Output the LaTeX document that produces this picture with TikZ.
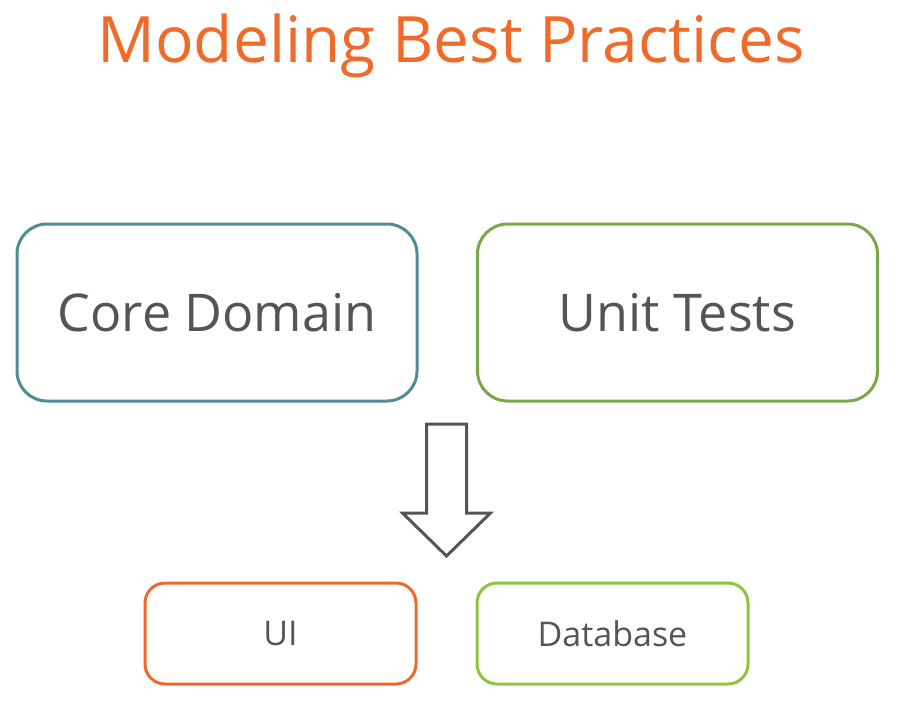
\documentclass[tikz,border=0pt]{standalone}
\usepackage{fontspec}
\setmainfont{Open Sans}
\usetikzlibrary{positioning}
\definecolor{titleorange}{HTML}{F06A2A}
\definecolor{coreteal}{HTML}{4F8C98}
\definecolor{testgreen}{HTML}{78A84A}
\definecolor{uiorange}{HTML}{EC6A2E}
\definecolor{dblime}{HTML}{8CC440}
\definecolor{textgray}{HTML}{555555}
\tikzset{bigbox/.style={rectangle, draw, line width=3pt, rounded corners=30pt,
  minimum width=400pt, minimum height=177pt, text=textgray,
  font=\fontsize{52}{52}\selectfont}}
\tikzset{smallbox/.style={rectangle, draw, line width=3pt, rounded corners=20pt,
  minimum width=271pt, minimum height=101pt, text=textgray,
  font=\fontsize{34}{34}\selectfont}}
\begin{document}
\begin{tikzpicture}[x=1pt,y=-1pt]

    \tikzstyle{bigarrow} = [draw=textgray, line width=3pt, line join=miter];

    \useasboundingbox (0,0) rectangle (902,705);

    \node [text=titleorange, font=\fontsize{64}{64}\selectfont] at (451,46) (title) {Modeling Best Practices};

    \node [bigbox, draw=coreteal] at (217,312.5) (core) {Core Domain};
    \node [bigbox, draw=testgreen] at (677.5,312.5) (tests) {Unit Tests};

    \node [smallbox, draw=uiorange] at (280.5,633.5) (ui) {UI};
    \node [smallbox, draw=dblime] at (612.5,633.5) (db) {Database};

    % hollow arrow between the rows
    \coordinate (tip) at (446.5,556);
    \draw [bigarrow] (tip) -- ++(-44,-43) -- ++(24,0) -- ++(0,-89) -- ++(40,0)
        -- ++(0,89) -- ++(24,0) -- cycle;

\end{tikzpicture}
\end{document}
